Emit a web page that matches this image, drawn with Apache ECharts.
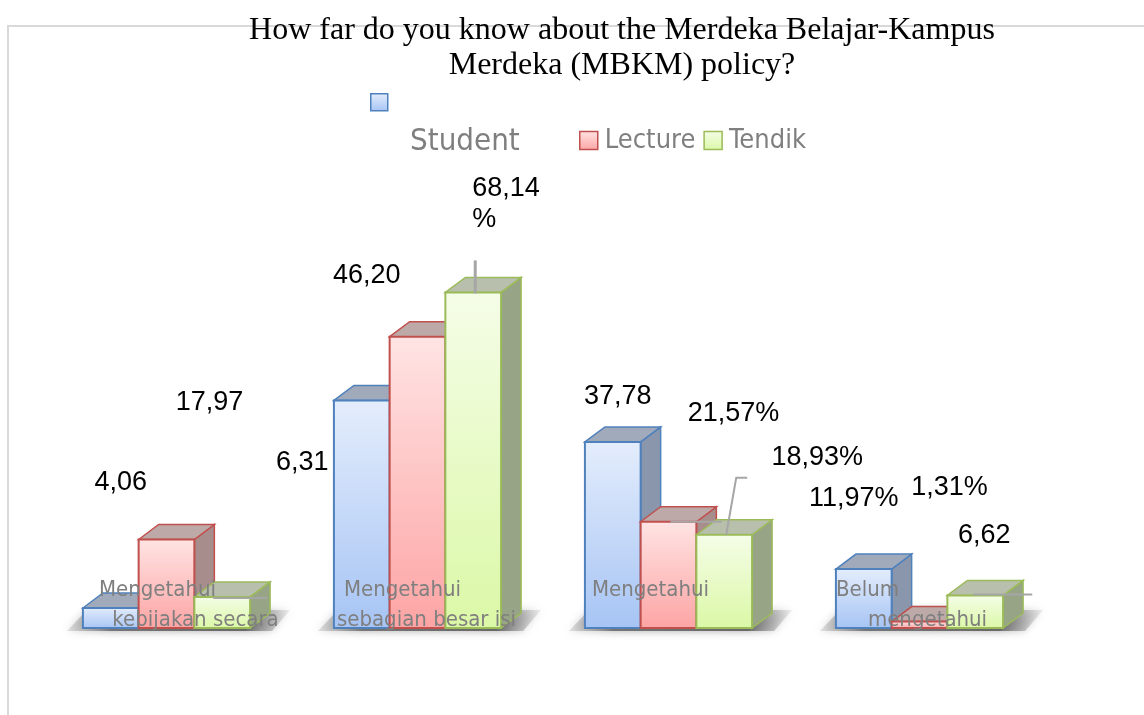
<!DOCTYPE html>
<html>
<head>
<meta charset="utf-8">
<script src="https://cdn.jsdelivr.net/npm/echarts@6.0.0/dist/echarts.min.js"></script>
<style>
  html, body { margin: 0; padding: 0; background: #fff; }
  #chart { width: 1144px; height: 715px; }
</style>
</head>
<body>
<div id="chart"></div>
<script>
// data (percent)
var categories = [
  ['Mengetahui', 'kebijakan secara'],
  ['Mengetahui', 'sebagian besar isi'],
  ['Mengetahui', ''],
  ['Belum', 'mengetahui']
];
var seriesNames = ['Student', 'Lecture', 'Tendik'];
var student = [4.06, 46.20, 37.78, 11.97];
var lecture = [17.97, 59.15, 21.57, 1.31];
var tendik = [6.31, 68.14, 18.93, 6.62];
var values = [student, lecture, tendik];

// how each value label is written in the original (null = no label)
var labelSuffix = [
  ['', '', '', '%'],
  ['', null, '%', '%'],
  ['', '\n%', '%', '']
];

// label placement relative to the top-front centre of each bar
var labelShift = [
  [[10, -125], [5, -125], [5, -45], [-10, -71]],
  [[43, -137], null, [65, -108], [30, -134]],
  [[80, -134], [-1, -88], [93, -77], [9, -60]]
];
// grey leader lines (relative to top-front centre of bar)
var leaders = [
  [null, null, null, null],
  [null, null, [[2, 0], [53, 0]], null],
  [[[-9, 1], [45, 1]], [[2, 1], [2, -32]], [[2, 0], [12, -57], [23, -57]], [[-2, -1], [57, -1]]]
];
// category label shifts: [line1 dx, line2 dx]
var catShift = [[-9, 29], [-15, 9], [-18, 0], [-52, 8]];

var styles = [
  { line: '#4f81bd', hi: '#e4edfc', lo: '#a6c4f4', side: '#8a96ab', top: '#a1aaba' },
  { line: '#c0504d', hi: '#ffe4e4', lo: '#fda4a4', side: '#a88d8d', top: '#bea9a9' },
  { line: '#9bbb59', hi: '#f5fde8', lo: '#dbf8a6', side: '#97a486', top: '#b8bfac' }
];

var DX = 20, DY = -15, BAR = 0.222;

function frontFill(st) {
  return new echarts.graphic.LinearGradient(0, 0, 0, 1, [
    { offset: 0, color: st.hi }, { offset: 1, color: st.lo }
  ]);
}

function barRenderer(si) {
  var st = styles[si];
  return function (params, api) {
    var i = api.value(0), v = api.value(1);
    var base = api.coord([i, 0]);
    var top = api.coord([i, v]);
    var w = api.size([1, 0])[0] * BAR;
    var x0 = base[0] + (si - 1.5) * w, x1 = x0 + w;
    var yb = base[1], yt = top[1];
    var cx = x0 + w / 2;
    var kids = [
      { type: 'polygon', shape: { points: [[x1, yb], [x1 + DX, yb + DY], [x1 + DX, yt + DY], [x1, yt]] },
        style: { fill: st.side, stroke: st.line, lineWidth: 1.5 } },
      { type: 'polygon', shape: { points: [[x0, yt], [x0 + DX, yt + DY], [x1 + DX, yt + DY], [x1, yt]] },
        style: { fill: st.top, stroke: st.line, lineWidth: 1.5 } },
      { type: 'rect', shape: { x: x0, y: yt, width: w, height: yb - yt },
        style: { fill: frontFill(st), stroke: st.line, lineWidth: 2 } }
    ];
    var suf = labelSuffix[si][i];
    if (suf !== null) {
      var sh = labelShift[si][i];
      var multi = suf.indexOf('\n') >= 0;
      kids.push({
        type: 'text', x: cx + sh[0], y: yt + sh[1],
        style: {
          text: v.toFixed(2).replace('.', ',') + suf,
          font: '27px "Liberation Sans", Arial, sans-serif',
          fill: '#000', align: multi ? 'left' : 'center', verticalAlign: 'middle',
          lineHeight: 31
        }
      });
    }
    return { type: 'group', children: kids };
  };
}

function floorRenderer(params, api) {
  var i = api.value(0);
  var base = api.coord([i, 0]);
  var w = api.size([1, 0])[0] * BAR;
  var gl = base[0] - 1.5 * w, gr = base[0] + 1.5 * w, yb = base[1];
  return {
    type: 'polygon',
    shape: { points: [[gl - 16, yb + 3], [gr + 22, yb + 3], [gr + 40, yb - 18], [gl + 4, yb - 18]] },
    style: {
      fill: new echarts.graphic.LinearGradient(0, 0, 1, 0, [
        { offset: 0, color: 'rgba(150,150,150,0.25)' },
        { offset: 0.2, color: 'rgba(80,80,80,0.7)' },
        { offset: 0.8, color: 'rgba(70,70,70,0.75)' },
        { offset: 1, color: 'rgba(150,150,150,0.15)' }
      ]),
      shadowBlur: 9, shadowColor: 'rgba(60,60,60,0.6)'
    }
  };
}

function overlayRenderer(params, api) {
  var i = api.value(0);
  var base = api.coord([i, 0]);
  var w = api.size([1, 0])[0] * BAR;
  var kids = [];
  for (var s = 0; s < 3; s++) {
    var ld = leaders[s][i];
    if (!ld) continue;
    var cx = base[0] + (s - 1) * w;
    var yt = api.coord([i, values[s][i]])[1];
    kids.push({
      type: 'polyline',
      shape: { points: ld.map(function (p) { return [cx + p[0], yt + p[1]]; }) },
      style: { stroke: '#a6a6a6', lineWidth: s === 2 && i === 1 ? 3 : 2, fill: null }
    });
  }
  var font = '22px "DejaVu Sans Condensed", "DejaVu Sans", sans-serif';
  kids.push({ type: 'text', x: base[0] + catShift[i][0], y: base[1] - 38,
    style: { text: categories[i][0], font: font, fill: '#7f7f7f', align: 'center', verticalAlign: 'middle' } });
  if (categories[i][1]) {
    kids.push({ type: 'text', x: base[0] + catShift[i][1], y: base[1] - 8,
      style: { text: categories[i][1], font: font, fill: '#7f7f7f', align: 'center', verticalAlign: 'middle' } });
  }
  return { type: 'group', children: kids };
}

var idx = categories.map(function (c, i) { return i; });

var legendIcon = function (si) {
  return { color: frontFill(styles[si]), borderColor: styles[si].line, borderWidth: 1.5 };
};
var legendFont = '"DejaVu Sans Condensed", "DejaVu Sans", sans-serif';

var option = {
  animation: false,
  title: {
    text: 'How far do you know about the Merdeka Belajar-Kampus\nMerdeka (MBKM) policy?',
    left: 617, top: 8, textAlign: 'center',
    textStyle: { fontFamily: '"Liberation Serif", "Times New Roman", serif', fontSize: 32,
      fontWeight: 'normal', color: '#000', lineHeight: 35 }
  },
  graphic: [{
    type: 'rect', z: -10, silent: true,
    shape: { x: 8, y: 26, width: 1300, height: 900 },
    style: { fill: null, stroke: '#d9d9d9', lineWidth: 2 }
  }],
  legend: [
    { data: [{ name: 'Student', itemStyle: legendIcon(0) }], left: 365, top: 88, icon: 'rect',
      itemWidth: 17, itemHeight: 17, formatter: function () { return ''; } },
    { data: [{ name: 'Student', itemStyle: { opacity: 0 } }], left: 400, top: 121, icon: 'rect',
      itemWidth: 0, itemHeight: 2,
      textStyle: { fontFamily: legendFont, fontSize: 31, color: '#7f7f7f' } },
    { data: [{ name: 'Lecture', itemStyle: legendIcon(1) }, { name: 'Tendik', itemStyle: legendIcon(2) }],
      left: 574, top: 122, icon: 'rect', itemWidth: 18, itemHeight: 18, itemGap: 8,
      textStyle: { fontFamily: legendFont, fontSize: 27, color: '#7f7f7f', padding: [0, 0, 0, 2] } }
  ],
  grid: { left: 41, right: 99, top: 234, bottom: 87 },
  xAxis: { type: 'category', data: categories.map(function (c) { return c.join(' '); }), show: false },
  yAxis: { type: 'value', min: 0, max: 80, show: false },
  series: [
    { type: 'custom', name: 'floor', z: 1, silent: true, renderItem: floorRenderer,
      data: idx.map(function (i) { return [i, 0]; }) }
  ].concat(seriesNames.map(function (name, si) {
    return {
      type: 'custom', name: name, z: 2,
      itemStyle: { color: styles[si].lo, borderColor: styles[si].line },
      renderItem: barRenderer(si),
      encode: { x: 0, y: 1 },
      data: values[si].map(function (v, i) { return [i, v]; })
    };
  })).concat([
    { type: 'custom', name: 'overlay', z: 5, silent: true, renderItem: overlayRenderer,
      data: idx.map(function (i) { return [i, 0]; }) }
  ])
};

var chart = echarts.init(document.getElementById('chart'));
chart.setOption(option);
</script>
</body>
</html>
